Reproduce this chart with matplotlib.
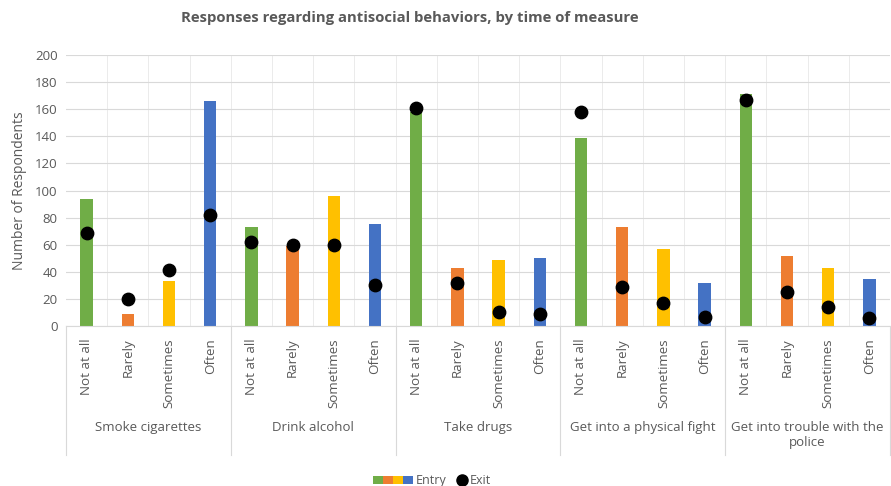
import matplotlib
matplotlib.use("Agg")
import matplotlib.pyplot as plt
from matplotlib.lines import Line2D
from matplotlib.patches import Rectangle
from matplotlib.transforms import blended_transform_factory

behaviors = ["Smoke cigarettes", "Drink alcohol", "Take drugs",
             "Get into a physical fight", "Get into trouble with the\npolice"]
frequencies = ["Not at all", "Rarely", "Sometimes", "Often"]

entry = [94, 9, 33, 166,
         73, 59, 96, 75,
         158, 43, 49, 50,
         139, 73, 57, 32,
         171, 52, 43, 35]
exit_ = [69, 20, 41, 82,
         62, 60, 60, 30,
         161, 32, 10, 9,
         158, 29, 17, 7,
         167, 25, 14, 6]

freq_colors = ["#70AD47", "#ED7D31", "#FFC000", "#4472C4"]
text_gray = "#595959"
grid_gray = "#D9D9D9"
fonts = ["Open Sans", "DejaVu Sans"]

W, H = 891, 486
fig = plt.figure(figsize=(W / 100, H / 100), dpi=100)
ax = fig.add_axes([66 / W, (H - 326) / H, 824 / W, 271 / H])

n = len(entry)
x = list(range(n))
colors = [freq_colors[i % 4] for i in range(n)]
ax.bar(x, entry, width=0.3, color=colors, zorder=2)
ax.scatter(x, exit_, s=80, color="black", zorder=3)

ax.set_xlim(-0.5, n - 0.5)
ax.set_ylim(0, 200)
ax.set_yticks(range(0, 201, 20))
ax.set_xticks(x)
ax.set_xticklabels(frequencies * len(behaviors), rotation=90, va="top",
                   fontsize=9.6, color=text_gray, family=fonts)
ax.set_xticks([i + 0.5 for i in range(n - 1)], minor=True)
ax.tick_params(axis="x", which="both", length=0, pad=9)
ax.tick_params(axis="y", length=0, pad=6, labelsize=9.5, labelcolor=text_gray)
for lab in ax.get_yticklabels():
    lab.set_family(fonts)

ax.grid(axis="y", color=grid_gray, linewidth=0.8, zorder=0)
ax.grid(axis="x", which="minor", color=grid_gray, linewidth=0.6, alpha=0.6, zorder=0)
for s in ["top", "right", "left"]:
    ax.spines[s].set_visible(False)
ax.spines["bottom"].set_color(grid_gray)

ax.set_ylabel("Number of Respondents", fontsize=10, color=text_gray,
              family=fonts, labelpad=6)

# group labels and separators under the frequency labels
trans = blended_transform_factory(ax.transData, ax.transAxes)
for g, name in enumerate(behaviors):
    cx = g * 4 + 1.5
    ax.text(cx, -0.35, name, transform=trans, ha="center", va="top",
            fontsize=9.5, color=text_gray, linespacing=1.2, family=fonts)
for b in range(0, n + 1, 4):
    ax.add_line(Line2D([b - 0.5, b - 0.5], [0, -0.476], transform=trans,
                       color=grid_gray, linewidth=0.8, clip_on=False))

fig.text(410 / W, 1 - 18 / H, "Responses regarding antisocial behaviors, by time of measure",
         ha="center", va="center", fontsize=10.7, fontweight="bold", color=text_gray,
         family=fonts)

# legend: a strip of the four frequency colours for Entry, a black dot for Exit
ly = 1 - 480 / H
sw = 10 / W
for i, c in enumerate(freq_colors):
    fig.patches.append(Rectangle((373 / W + i * sw, ly - 4 / H), sw, 8 / H,
                                 transform=fig.transFigure, facecolor=c,
                                 edgecolor="none"))
fig.text(416 / W, ly, "Entry", ha="left", va="center", fontsize=9,
         color=text_gray, family=fonts)
fig.add_artist(Line2D([462 / W], [ly], marker="o", color="black", markersize=8,
                      linestyle="none", transform=fig.transFigure))
fig.text(470 / W, ly, "Exit", ha="left", va="center", fontsize=9,
         color=text_gray, family=fonts)

fig.savefig("out.png", dpi=100)
